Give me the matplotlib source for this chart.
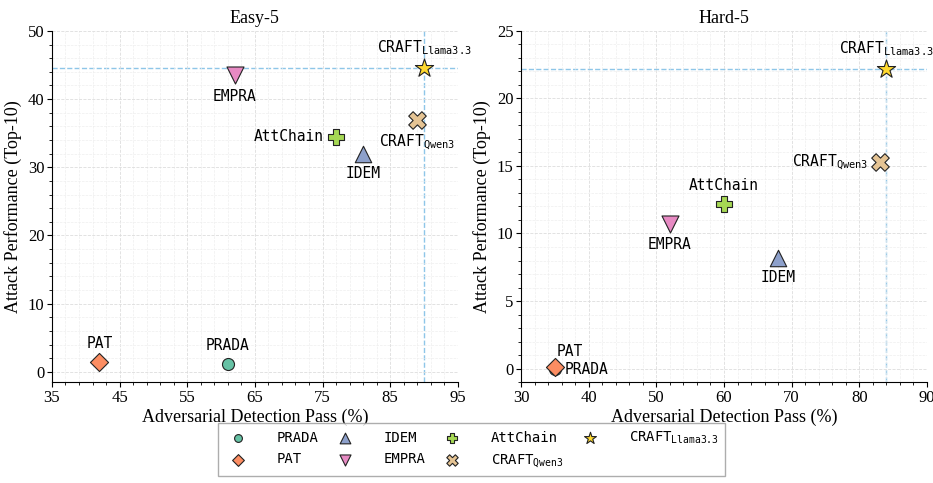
import matplotlib
matplotlib.use("Agg")
import matplotlib.pyplot as plt
from matplotlib.ticker import AutoMinorLocator

plt.rcParams["font.family"] = ["Liberation Serif", "DejaVu Serif"]
plt.rcParams["mathtext.fontset"] = "dejavusans"

METHODS = ["PRADA", "PAT", "IDEM", "EMPRA", "AttChain", "CRAFT_Qwen3", "CRAFT_Llama3.3"]
LABELS = ["PRADA", "PAT", "IDEM", "EMPRA", "AttChain",
          r"CRAFT$_{\mathtt{Qwen3}}$", r"CRAFT$_{\mathtt{Llama3.3}}$"]
COLORS = ["#66c2a5", "#fc8d62", "#8da0cb", "#e78ac3", "#a6d854", "#e5c494", "#ffd92f"]
MARKERS = ["o", "D", "^", "v", "P", "X", "*"]
SIZES = [75, 85, 140, 150, 120, 160, 190]

# Easy-5
EASY_X = [61, 42, 81, 62, 77, 89, 90]
EASY_Y = [1.2, 1.4, 32.0, 43.5, 34.5, 37.0, 44.5]
# Hard-5
HARD_X = [35, 35, 68, 52, 60, 83, 84]
HARD_Y = [0.0, 0.1, 8.2, 10.7, 12.2, 15.3, 22.2]

# label offsets (points) and alignment
EASY_OFF = {
    "PRADA": (0, 8, "center", "bottom"),
    "PAT": (0, 8, "center", "bottom"),
    "IDEM": (0, -9, "center", "top"),
    "EMPRA": (0, -10, "center", "top"),
    "AttChain": (-9, 0, "right", "center"),
    "CRAFT_Qwen3": (0, -9, "center", "top"),
    "CRAFT_Llama3.3": (0, 8, "center", "bottom"),
}
HARD_OFF = {
    "PRADA": (7, -1, "left", "center"),
    "PAT": (1, 6, "left", "bottom"),
    "IDEM": (0, -9, "center", "top"),
    "EMPRA": (0, -9, "center", "top"),
    "AttChain": (0, 8, "center", "bottom"),
    "CRAFT_Qwen3": (-8, 0, "right", "center"),
    "CRAFT_Llama3.3": (0, 8, "center", "bottom"),
}


def draw_panel(ax, xs, ys, offsets, title, xlim, ylim, xticks, yticks, best):
    ax.grid(True, which="major", linestyle="--", color="#dddddd", linewidth=0.6, zorder=0)
    ax.grid(True, which="minor", linestyle="--", color="#eeeeee", linewidth=0.5, zorder=0)
    ax.axvline(best[0], color="#8ec6e8", linestyle="--", linewidth=1.0, zorder=1)
    ax.axhline(best[1], color="#8ec6e8", linestyle="--", linewidth=1.0, zorder=1)
    for i, m in enumerate(METHODS):
        ax.scatter(xs[i], ys[i], s=SIZES[i], marker=MARKERS[i], c=COLORS[i],
                   edgecolors="#222222", linewidths=0.8, zorder=3 if m != "PRADA" else 2,
                   label=LABELS[i])
        dx, dy, ha, va = offsets[m]
        ax.annotate(LABELS[i], (xs[i], ys[i]), xytext=(dx, dy), textcoords="offset points",
                    ha=ha, va=va, fontsize=10.5, family="DejaVu Sans Mono", zorder=4)
    ax.set_xlim(*xlim)
    ax.set_ylim(*ylim)
    ax.set_xticks(xticks)
    ax.set_yticks(yticks)
    ax.xaxis.set_minor_locator(AutoMinorLocator(5))
    ax.yaxis.set_minor_locator(AutoMinorLocator(5))
    ax.tick_params(labelsize=12, pad=2)
    ax.spines["top"].set_visible(False)
    ax.spines["right"].set_visible(False)
    ax.set_title(title, fontsize=13)
    ax.set_xlabel("Adversarial Detection Pass (%)", fontsize=13, labelpad=2)
    ax.set_ylabel("Attack Performance (Top-10)", fontsize=13)


fig = plt.figure(figsize=(9.33, 4.83), dpi=100)
ax1 = fig.add_axes([0.0557, 0.209, 0.435, 0.727])
ax2 = fig.add_axes([0.5585, 0.209, 0.435, 0.727])

draw_panel(ax1, EASY_X, EASY_Y, EASY_OFF, "Easy-5", (35, 95), (-1.5, 50),
           range(35, 96, 10), range(0, 51, 10), (EASY_X[6], EASY_Y[6]))
draw_panel(ax2, HARD_X, HARD_Y, HARD_OFF, "Hard-5", (30, 90), (-1, 25),
           range(30, 91, 10), range(0, 26, 5), (HARD_X[6], HARD_Y[6]))

handles, labels = ax1.get_legend_handles_labels()
fig.legend(handles, labels, loc="lower center", bbox_to_anchor=(0.505, 0.0), ncol=4,
           prop={"family": "DejaVu Sans Mono", "size": 10}, frameon=True, fancybox=False,
           edgecolor="#999999", markerscale=0.65, columnspacing=0.9, handletextpad=1.8,
           borderpad=0.45, labelspacing=0.55)

fig.savefig("out.png", dpi=100)
